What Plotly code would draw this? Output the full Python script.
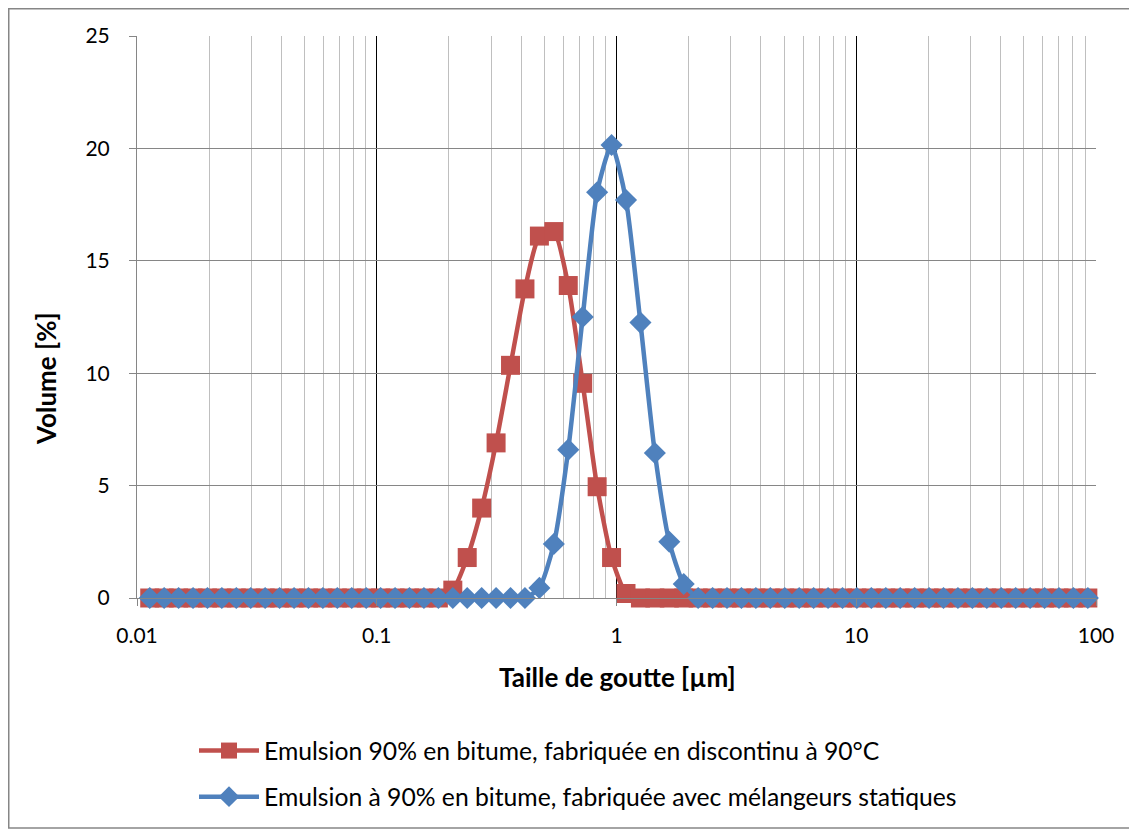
import plotly.graph_objects as go

# Droplet size classes (µm)
taille = [0.01130, 0.01298, 0.01491, 0.01713, 0.01967, 0.02259, 0.02595, 0.02981,
          0.03424, 0.03933, 0.04519, 0.05190, 0.05962, 0.06848, 0.07866, 0.09036,
          0.1038, 0.1192, 0.1369, 0.1573, 0.1807, 0.2076, 0.2384, 0.2739,
          0.3146, 0.3614, 0.4151, 0.4769, 0.5478, 0.6292, 0.7228, 0.8303,
          0.9537, 1.0955, 1.2584, 1.4454, 1.6603, 1.9072, 2.1908, 2.5164,
          2.8907, 3.3204, 3.8141, 4.3812, 5.0326, 5.781, 6.640, 7.628,
          8.762, 10.06, 11.56, 13.28, 15.25, 17.52, 20.13, 23.12,
          26.56, 30.51, 35.04, 40.25, 46.24, 53.11, 61.01, 70.08,
          80.50, 92.47]

# Volume [%] - batch emulsion (red)
vol_discontinu = [0]*21 + [0.35, 1.8, 4.0, 6.9, 10.35, 13.75, 16.1, 16.3,
                           13.9, 9.55, 4.95, 1.8, 0.2] + [0]*32

# Volume [%] - static mixer emulsion (blue)
vol_statique = [0]*27 + [0.45, 2.4, 6.6, 12.5, 18.05, 20.15, 17.7, 12.25,
                         6.45, 2.5, 0.62] + [0]*28

nom_rouge = "Emulsion 90% en bitume, fabriquée en discontinu à 90°C"
nom_bleu = "Emulsion à 90% en bitume, fabriquée avec mélangeurs statiques"

x_ticks = [0.01, 0.1, 1, 10, 100]
x_ticklabels = ["0.01", "0.1", "1", "10", "100"]
y_ticks = [0, 5, 10, 15, 20, 25]

FONT = "Lato"
W, H = 1129, 822          # page has an 8 px body margin
L, T, R, B = 129, 28, 41, 232
PW, PH = W - L - R, H - T - B
OFF = 8


def px_to_paper_x(px):
    return (px - OFF - L) / PW


def px_to_paper_y(py):
    return (T + PH - (py - OFF)) / PH


fig = go.Figure()
fig.add_trace(go.Scatter(
    x=taille, y=vol_discontinu, name=nom_rouge, mode="lines+markers",
    line=dict(color="#C0504D", width=4.5, shape="spline", smoothing=0.6),
    marker=dict(symbol="square", size=19, color="#C0504D"),
    legendgroup="a", cliponaxis=False,
))
fig.add_trace(go.Scatter(
    x=taille, y=vol_statique, name=nom_bleu, mode="lines+markers",
    line=dict(color="#4F81BD", width=4.5, shape="spline", smoothing=0.6),
    marker=dict(symbol="diamond", size=17, color="#4F81BD"),
    legendgroup="b", cliponaxis=False,
))

minor_vals = [m * 10**e for e in range(-2, 2) for m in range(2, 10)]

fig.update_layout(
    width=W, height=H,
    margin=dict(l=L, r=R, t=T, b=B, autoexpand=False),
    paper_bgcolor="white", plot_bgcolor="white",
    font=dict(family=FONT, size=21, color="black"),
    showlegend=True,
    legend=dict(
        x=px_to_paper_x(194), y=px_to_paper_y(728), xanchor="left", yanchor="top",
        font=dict(family=FONT, size=24.7, color="black"),
        traceorder="grouped", tracegroupgap=11,
        itemwidth=60,
        bgcolor="rgba(0,0,0,0)",
    ),
    xaxis=dict(
        type="log", range=[-2, 2], automargin=False,
        tickvals=x_ticks, ticktext=x_ticklabels,
        showgrid=True, gridcolor="#000000", gridwidth=1,
        minor=dict(tickvals=minor_vals, showgrid=True, gridcolor="#BFBFBF",
                   gridwidth=1, ticks=""),
        ticks="outside", ticklen=7, tickcolor="#868686",
        showline=True, linecolor="#868686", linewidth=1,
        ticklabelstandoff=12,
        zeroline=False,
    ),
    yaxis=dict(
        range=[0, 25], tickvals=y_ticks, automargin=False,
        showgrid=True, gridcolor="#868686", gridwidth=1,
        ticks="outside", ticklen=7, tickcolor="#868686",
        showline=True, linecolor="#868686", linewidth=1,
        ticklabelstandoff=15,
        zeroline=False,
    ),
    annotations=[
        dict(
            text="<b>Volume [%]</b>", textangle=-90, showarrow=False,
            xref="paper", yref="paper",
            x=px_to_paper_x(46), y=px_to_paper_y(379),
            xanchor="center", yanchor="middle",
            font=dict(family=FONT, size=26, color="black"),
        ),
        dict(
            text="<b>Taille de goutte [µm]</b>", showarrow=False,
            xref="paper", yref="paper",
            x=px_to_paper_x(617), y=px_to_paper_y(677),
            xanchor="center", yanchor="middle",
            font=dict(family=FONT, size=26, color="black"),
        ),
    ],
    shapes=[dict(
        type="rect", xref="paper", yref="paper",
        x0=(0.75 - L) / PW, x1=(1122 - L) / PW,
        y0=(T + PH - 820) / PH, y1=(T + PH - 0.75) / PH,
        line=dict(color="#868686", width=1.5), fillcolor="rgba(0,0,0,0)",
        layer="below",
    )],
)

fig.write_html("out.html")
